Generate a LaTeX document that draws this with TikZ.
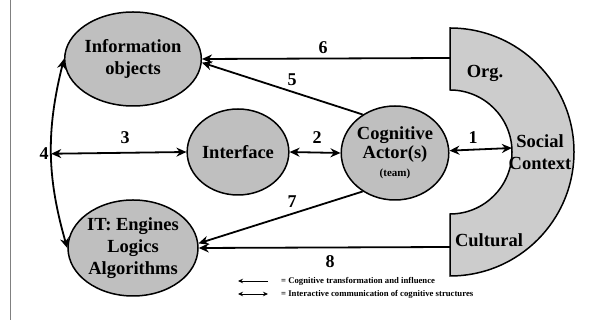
\documentclass[tikz,border=0pt]{standalone}
\usepackage{fontspec}
\setmainfont{Liberation Serif}
\usepackage{tikz}
\usetikzlibrary{shapes.geometric,% ellipse nodes
arrows.meta}
\tikzset{every node/.style={font=\bfseries\fontsize{18.5}{22}\selectfont}}
\tikzset{blob/.style={ellipse, draw, line width=1.5pt, fill=black!25, inner sep=0pt, align=center},
  flow/.style={line width=1.8pt, -{Stealth[length=10pt,width=9pt]}},
  both/.style={line width=1.8pt, {Stealth[length=10pt,width=9pt]}-{Stealth[length=10pt,width=9pt]}},
  num/.style={font=\bfseries\fontsize{18}{20}\selectfont},
  legtext/.style={font=\bfseries\fontsize{8.7}{10}\selectfont, anchor=west, inner sep=0pt}}

\begin{document}
\begin{tikzpicture}[x=1pt, y=1pt]
      \useasboundingbox (0,0) rectangle (605,320);
      \draw[gray, thin] (10,0) -- (10,320);
      % social context
      \draw[line width=1.5pt, fill=black!20] (450,292) arc[start angle=90, end angle=-90, radius=124pt]
        -- (450,106) arc[start angle=-90, end angle=90, radius=62pt] -- cycle;
      \node at (485,247) {Org.};
      \node[align=center] at (540,168) {Social\\Context};
      \node at (489,80) {Cultural};
      \coordinate (org) at (450,262);
      \coordinate (inner) at (511.9,172);
      \coordinate (cult) at (450,73);
      % nodes
      \node[blob, minimum width=130pt, minimum height=94pt] (info) at (133,261) {Information\\objects};
      \node[blob, minimum width=94pt, minimum height=86pt] (iface) at (238,168) {Interface};
      \node[blob, minimum width=104pt, minimum height=94pt] (actor) at (395,167)
        {Cognitive\\[-3pt]Actor(s)\\[-4pt]{\fontsize{11}{12}\selectfont (team)}};
      \node[blob, minimum width=130pt, minimum height=96pt] (it) at (133,72) {IT: Engines\\Logics\\Algorithms};
      % connectors
      \draw[both] (info.west) to[bend right=15] coordinate[pos=0.5] (m4) (it.west);
      \draw[both] (m4) -- (iface.west);
      \draw[both] (iface.east) -- (actor.west);
      \draw[both] (actor) -- (inner);
      \draw[flow] (org) -- (info.east);
      \draw[flow] (actor.130) -- (info.-3);
      \draw[flow] (actor.230) -- (it.4);
      \draw[flow] (cult) -- (it.east);
      \node[num] at (44,166) {4};
      \node[num] at (125,182) {3};
      \node[num] at (317,182) {2};
      \node[num] at (473,182) {1};
      \node[num] at (323,272) {6};
      \node[num] at (292,240) {5};
      \node[num] at (292,118) {7};
      \node[num] at (330,58) {8};
      % legend
      \node[legtext] (leg1) at (281,39) {= Cognitive transformation and influence};
      \node[legtext] (leg2) at (281,26) {= Interactive communication of cognitive structures};
      \coordinate (l1a) at (268,39);
      \coordinate (l1b) at (238,39);
      \coordinate (l2a) at (268,26);
      \coordinate (l2b) at (238,26);
      \draw[line width=0.8pt, -{Stealth[length=5pt,width=4.5pt]}] (l1a) -- (l1b);
      \draw[line width=0.8pt, {Stealth[length=5pt,width=4.5pt]}-{Stealth[length=5pt,width=4.5pt]}] (l2b) -- (l2a);
\end{tikzpicture}
\end{document}
